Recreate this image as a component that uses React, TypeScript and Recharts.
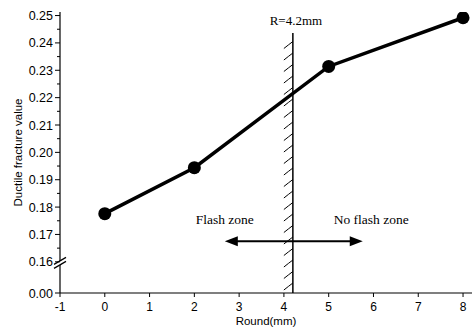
import { Line, LineChart, ReferenceDot, ReferenceLine, XAxis, YAxis } from "recharts";

// measured points
const rounds = [0, 2, 5, 8];
const ductileValues = [0.1776, 0.1944, 0.2314, 0.2492];

const xTicks = [-1, 0, 1, 2, 3, 4, 5, 6, 7, 8];
const yMajorTicks = [0, 0.16, 0.17, 0.18, 0.19, 0.2, 0.21, 0.22, 0.23, 0.24, 0.25];
const yMinorTicks = [0.165, 0.175, 0.185, 0.195, 0.205, 0.215, 0.225, 0.235, 0.245];

const criticalRadius = 4.2;
const criticalTop = 0.2436;
const breakAt = 0.1545;
const arrowLevel = 0.1675;
const arrowFrom = 2.68;
const arrowTo = 5.76;
const zoneLabelLevel = 0.1737;
const flashZoneX = 2.68;
const noFlashZoneX = 5.95;

// broken axis: 0 sits a short gap below 0.16
const BREAK_START = 0.16;
const BREAK_GAP = 0.0114;

function toAxis(v: number): number {
  if (v < BREAK_START) return (v / BREAK_START) * BREAK_GAP;
  return BREAK_GAP + (v - BREAK_START);
}

const yAxisTop = toAxis(0.2513);

const tickLabels = new Map<string, string>();
yMajorTicks.forEach((v) => tickLabels.set(toAxis(v).toFixed(6), v.toFixed(2)));
const yTicks = [...yMajorTicks, ...yMinorTicks].map(toAxis).sort((a, b) => a - b);

const data = rounds.map((r, i) => ({ round: r, value: toAxis(ductileValues[i]) }));

const SANS = "'Liberation Sans', Arial, sans-serif";
const SERIF = "'Liberation Serif', 'Times New Roman', serif";

function YTick({ x = 0, y = 0, payload }: any) {
  const label = tickLabels.get(Number(payload?.value).toFixed(6));
  return (
    <g>
      <line x1={x - (label ? 5 : 3)} x2={x} y1={y} y2={y} stroke="#000" strokeWidth={1} />
      {label && (
        <text x={x - 7} y={y} dy={4.5} textAnchor="end" fontFamily={SANS} fontSize={12.5} fill="#000">
          {label}
        </text>
      )}
    </g>
  );
}

function XTick({ x = 0, y = 0, payload }: any) {
  return (
    <g>
      <line x1={x} x2={x} y1={y} y2={y + 4} stroke="#000" strokeWidth={1} />
      <text x={x} y={y + 17.5} textAnchor="middle" fontFamily={SANS} fontSize={12} fill="#000">
        {payload?.value}
      </text>
    </g>
  );
}

function YAxisTitle({ viewBox }: any) {
  const cx = viewBox.x + 18;
  const cy = viewBox.y + viewBox.height / 2;
  return (
    <text
      x={cx}
      y={cy}
      dy={4}
      transform={`rotate(-90, ${cx}, ${cy})`}
      textAnchor="middle"
      fontFamily={SANS}
      fontSize={11.5}
      fill="#000"
    >
      Ductile fracture value
    </text>
  );
}

function XAxisTitle({ viewBox }: any) {
  return (
    <text
      x={viewBox.x + viewBox.width / 2}
      y={viewBox.y + 32}
      textAnchor="middle"
      fontFamily={SANS}
      fontSize={11.5}
      fill="#000"
    >
      Round(mm)
    </text>
  );
}

function HatchedLine({ x1, y1, y2 }: any) {
  const top = Math.min(y1, y2);
  const bottom = Math.max(y1, y2);
  const hatches = [];
  for (let y = bottom - 7; y > top + 2; y -= 11.5) {
    hatches.push(
      <path
        key={y}
        d={`M${x1 - 9},${y + 4} Q${x1 - 4},${y} ${x1},${y - 3}`}
        fill="none"
        stroke="#000"
        strokeWidth={1}
      />
    );
  }
  return (
    <g>
      <line x1={x1} x2={x1} y1={top} y2={bottom} stroke="#000" strokeWidth={1.5} />
      {hatches}
      <text x={x1 + 3} y={top - 8} textAnchor="middle" fontFamily={SERIF} fontSize={13} fill="#000">
        R=4.2mm
      </text>
    </g>
  );
}

function DoubleArrow({ x1, x2, y1 }: any) {
  const left = Math.min(x1, x2);
  const right = Math.max(x1, x2);
  const head = 13;
  const half = 5;
  return (
    <g>
      <line x1={left + head - 2} x2={right - head + 2} y1={y1} y2={y1} stroke="#000" strokeWidth={2} />
      <polygon points={`${left},${y1} ${left + head},${y1 - half} ${left + head},${y1 + half}`} fill="#000" />
      <polygon points={`${right},${y1} ${right - head},${y1 - half} ${right - head},${y1 + half}`} fill="#000" />
    </g>
  );
}

function AxisBreak({ cx, cy }: any) {
  return (
    <g>
      <polygon
        points={`${cx - 5},${cy + 1} ${cx + 5},${cy - 5} ${cx + 5},${cy - 1} ${cx - 5},${cy + 5}`}
        fill="#fff"
      />
      <line x1={cx - 6} y1={cy + 1.5} x2={cx + 6} y2={cy - 5.5} stroke="#000" strokeWidth={1.2} />
      <line x1={cx - 6} y1={cy + 5.5} x2={cx + 6} y2={cy - 1.5} stroke="#000" strokeWidth={1.2} />
    </g>
  );
}

function zoneText(text: string) {
  return ({ cx, cy }: any) => (
    <text x={cx} y={cy} textAnchor="middle" fontFamily={SERIF} fontSize={13.5} fill="#000">
      {text}
    </text>
  );
}

export default function App() {
  return (
    <div style={{ position: "absolute", left: 0, top: 0, background: "#fff" }}>
      <LineChart width={474} height={329} data={data} margin={{ top: 12, right: 2, bottom: 0, left: 0 }}>
        <XAxis
          type="number"
          dataKey="round"
          domain={[-1, 8.2]}
          ticks={xTicks}
          interval={0}
          allowDataOverflow
          height={36}
          tickSize={0}
          tickMargin={0}
          tickLine={false}
          axisLine={{ stroke: "#000", strokeWidth: 1.2 }}
          tick={<XTick />}
          label={<XAxisTitle />}
        />
        <YAxis
          type="number"
          domain={[0, yAxisTop]}
          ticks={yTicks}
          interval={0}
          allowDataOverflow
          width={60}
          tickSize={0}
          tickMargin={0}
          tickLine={false}
          axisLine={{ stroke: "#000", strokeWidth: 1.2 }}
          tick={<YTick />}
          label={<YAxisTitle />}
        />
        <ReferenceLine
          segment={[
            { x: criticalRadius, y: toAxis(0) },
            { x: criticalRadius, y: toAxis(criticalTop) },
          ]}
          shape={HatchedLine}
        />
        <ReferenceLine
          segment={[
            { x: arrowFrom, y: toAxis(arrowLevel) },
            { x: arrowTo, y: toAxis(arrowLevel) },
          ]}
          shape={DoubleArrow}
        />
        <ReferenceDot x={flashZoneX} y={toAxis(zoneLabelLevel)} shape={zoneText("Flash zone")} />
        <ReferenceDot x={noFlashZoneX} y={toAxis(zoneLabelLevel)} shape={zoneText("No flash zone")} />
        <ReferenceDot x={-1} y={toAxis(breakAt)} ifOverflow="visible" shape={AxisBreak} />
        <Line
          type="linear"
          dataKey="value"
          stroke="#000"
          strokeWidth={3.5}
          dot={{ r: 6.5, fill: "#000", stroke: "none" }}
          activeDot={false}
          isAnimationActive={false}
        />
      </LineChart>
    </div>
  );
}
